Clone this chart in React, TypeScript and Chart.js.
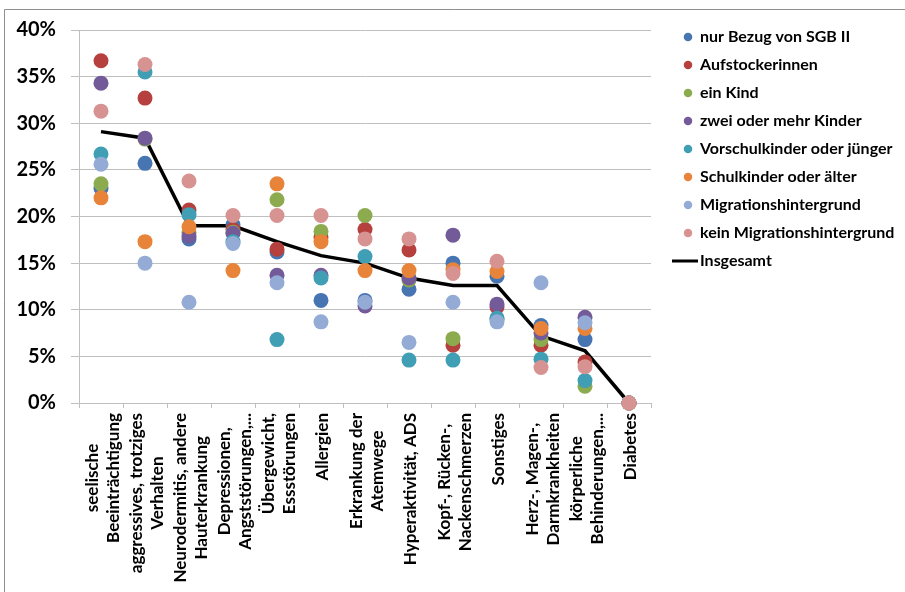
import React, { useEffect, useRef } from 'react';
import { Chart, registerables } from 'chart.js';

Chart.register(...registerables);

// Category labels (line breaks as in the original axis)
const categories: string[][] = [
  ['seelische', 'Beeinträchtigung'],
  ['aggressives, trotziges', 'Verhalten'],
  ['Neurodermitis, andere', 'Hauterkrankung'],
  ['Depressionen,', 'Angststörungen,...'],
  ['Übergewicht,', 'Essstörungen'],
  ['Allergien'],
  ['Erkrankung der', 'Atemwege'],
  ['Hyperaktivität, ADS'],
  ['Kopf-, Rücken-,', 'Nackenschmerzen'],
  ['Sonstiges'],
  ['Herz-, Magen-,', 'Darmkrankheiten'],
  ['körperliche', 'Behinderungen,...'],
  ['Diabetes'],
];

// Values in percent
const nurBezugSGBII = [23.0, 25.7, 17.6, 19.1, 16.2, 11.0, 11.0, 12.2, 15.0, 13.6, 8.3, 6.8, 0];
const aufstockerinnen = [36.7, 32.7, 20.7, 18.6, 16.5, 17.8, 18.6, 16.4, 6.2, 10.3, 6.2, 4.4, 0];
const einKind = [23.5, 28.3, 18.3, 18.3, 21.8, 18.4, 20.1, 13.2, 6.9, 9.0, 6.8, 1.8, 0];
const zweiOderMehrKinder = [34.3, 28.4, 17.9, 18.2, 13.7, 13.7, 10.4, 13.4, 18.0, 10.6, 7.5, 9.2, 0];
const vorschulkinder = [26.7, 35.5, 20.2, 17.3, 6.8, 13.4, 15.7, 4.6, 4.6, 9.1, 4.7, 2.4, 0];
const schulkinder = [22.0, 17.3, 18.9, 14.2, 23.5, 17.3, 14.2, 14.2, 14.3, 14.1, 8.0, 8.0, 0];
const migrationshintergrund = [25.6, 15.0, 10.8, 17.1, 12.9, 8.7, 10.8, 6.5, 10.8, 8.7, 12.9, 8.6, 0];
const keinMigrationshintergrund = [31.3, 36.3, 23.8, 20.1, 20.1, 20.1, 17.6, 17.6, 13.9, 15.2, 3.8, 3.9, 0];
const insgesamt = [29.1, 28.4, 19.0, 19.0, 17.3, 15.8, 15.0, 13.4, 12.6, 12.6, 7.2, 5.6, 0];

const seriesNames = [
  'nur Bezug von SGB II',
  'Aufstockerinnen',
  'ein Kind',
  'zwei oder mehr Kinder',
  'Vorschulkinder oder jünger',
  'Schulkinder oder älter',
  'Migrationshintergrund',
  'kein Migrationshintergrund',
];
const totalName = 'Insgesamt';
const seriesValues = [
  nurBezugSGBII,
  aufstockerinnen,
  einKind,
  zweiOderMehrKinder,
  vorschulkinder,
  schulkinder,
  migrationshintergrund,
  keinMigrationshintergrund,
];
const seriesColors = [
  '#4675B2',
  '#B6403D',
  '#8CAA4E',
  '#735A98',
  '#409EB5',
  '#E8843A',
  '#94ABD6',
  '#D79392',
];

const yMin = 0;
const yMax = 40;
const yStep = 5;

export default function App() {
  const ref = useRef<HTMLCanvasElement>(null);

  useEffect(() => {
    if (!ref.current) return;

    // legend symbol for the line series
    const lineImg = document.createElement('canvas');
    lineImg.width = 32;
    lineImg.height = 4;
    const lctx = lineImg.getContext('2d')!;
    lctx.fillStyle = '#000';
    lctx.fillRect(0, 0.5, 26, 3);

    const borderPlugin = {
      id: 'chartBorder',
      beforeDraw(chart: any) {
        const ctx = chart.ctx;
        ctx.save();
        ctx.fillStyle = '#fff';
        ctx.fillRect(0, 0, chart.width, chart.height);
        ctx.strokeStyle = '#8e8e8e';
        ctx.lineWidth = 1;
        ctx.beginPath();
        ctx.moveTo(4.5, chart.height);
        ctx.lineTo(4.5, 9.5);
        ctx.lineTo(chart.width, 9.5);
        ctx.stroke();
        ctx.restore();
      },
    };

    const legendPlacement = {
      id: 'legendPlacement',
      afterLayout(chart: any) {
        const lg = chart.legend;
        if (!lg) return;
        const w = lg.width;
        lg.left = 672;
        lg.right = 672 + w;
        lg.top = 17;
        lg.bottom = chart.height;
      },
    };

    const categoryLabels = {
      id: 'categoryLabels',
      afterDraw(chart: any) {
        const xs = chart.scales.x;
        const ctx = chart.ctx;
        const labels: string[][] = chart.data.labels;
        ctx.save();
        ctx.font = 'bold 17px Lato';
        ctx.fillStyle = '#000';
        ctx.textAlign = 'center';
        ctx.textBaseline = 'middle';
        const lh = 21;
        labels.forEach((lines, i) => {
          const x = xs.getPixelForTick(i);
          const widest = Math.max(...lines.map((l) => ctx.measureText(l).width));
          const cy = xs.top + 10 + widest / 2;
          lines.forEach((line, j) => {
            ctx.save();
            ctx.translate(x + (j - (lines.length - 1) / 2) * lh + 2, cy);
            ctx.rotate(-Math.PI / 2);
            ctx.fillText(line, 0, 0);
            ctx.restore();
          });
        });
        ctx.restore();
      },
    };

    const datasets: any[] = seriesNames.map((name, i) => ({
      type: 'line',
      label: name,
      data: seriesValues[i],
      showLine: false,
      backgroundColor: seriesColors[i],
      borderColor: seriesColors[i],
      pointBackgroundColor: seriesColors[i],
      pointBorderColor: seriesColors[i],
      pointBorderWidth: 0,
      pointRadius: 7.5,
      pointHoverRadius: 7.5,
      pointStyle: 'circle',
      order: seriesNames.length - i,
      clip: false,
    }));
    datasets.push({
      type: 'line',
      label: totalName,
      data: insgesamt,
      borderColor: '#000',
      backgroundColor: '#000',
      borderWidth: 3.5,
      pointRadius: 0,
      pointHoverRadius: 0,
      pointStyle: lineImg,
      tension: 0,
      order: 20,
      clip: false,
    });

    const chart = new Chart(ref.current, {
      type: 'line',
      data: { labels: categories as any, datasets },
      plugins: [borderPlugin, legendPlacement, categoryLabels],
      options: {
        responsive: false,
        animation: false,
        events: [],
        layout: { padding: { top: 30, right: 254, bottom: 0, left: 0 } },
        plugins: {
          tooltip: { enabled: false },
          legend: {
            display: true,
            position: 'chartArea',
            align: 'start',
            labels: {
              usePointStyle: true,
              boxWidth: 8,
              boxHeight: 6,
              padding: 12,
              color: '#000',
              font: { family: 'Lato', size: 16, weight: 'bold' },
              sort: (a: any, b: any) => a.datasetIndex - b.datasetIndex,
            },
          },
        },
        scales: {
          x: {
            type: 'category',
            offset: true,
            afterFit: (s: any) => {
              s.height = 189;
            },
            grid: {
              display: true,
              drawOnChartArea: false,
              drawTicks: true,
              tickLength: 5,
              offset: true,
              color: '#BFBFBF',
            },
            border: { display: true, color: '#BFBFBF' },
            ticks: { display: false },
          },
          y: {
            min: yMin,
            max: yMax,
            afterFit: (s: any) => {
              s.width = 79;
            },
            ticks: {
              stepSize: yStep,
              padding: 15,
              color: '#000',
              font: { family: 'Lato', size: 20, weight: 'bold' },
              callback: (v: any) => `${v}%`,
            },
            grid: { color: '#BFBFBF', tickLength: 8, drawTicks: true },
            border: { display: true, color: '#BFBFBF' },
          },
        },
      } as any,
    });

    return () => chart.destroy();
  }, []);

  return (
    <div style={{ position: 'absolute', left: 0, top: 0, width: 905, height: 592, background: '#fff' }}>
      <canvas ref={ref} width={905} height={592} style={{ display: 'block' }} />
    </div>
  );
}
